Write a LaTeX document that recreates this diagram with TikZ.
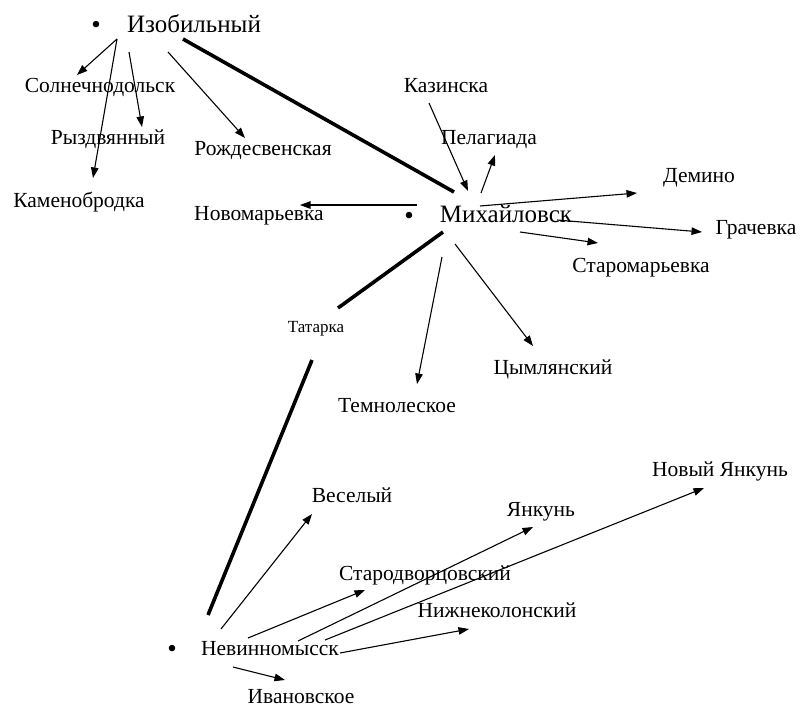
\documentclass[tikz,border=0pt]{standalone}
\usepackage{fontspec}
\setmainfont{Liberation Serif}
\usetikzlibrary{arrows.meta,calc}
\begin{document}
\begin{tikzpicture}[x=1pt,y=-1pt,
  lbl/.style={inner sep=0pt,font=\fontsize{21.5}{24}\selectfont,text height=18.3pt,text depth=4.3pt},
  biglbl/.style={inner sep=0pt,font=\fontsize{25}{28}\selectfont,text height=19pt,text depth=5pt},
  smalllbl/.style={inner sep=0pt,font=\fontsize{17}{20}\selectfont,text height=14.4pt,text depth=3.4pt},
  dotlbl/.style={inner sep=0pt,font=\fontsize{27}{29}\selectfont},
  arr/.style={line width=1.1pt,-{Triangle[length=10.5pt,width=7.5pt]}},
  thickline/.style={line width=3.6pt}]
\useasboundingbox (0,0) rectangle (801,707);
% nodes
\node[dotlbl] (dot1) at (96,27) {•};
\node[biglbl] (izob) at (194,25) {Изобильный};
\node[lbl] (solnech) at (100,85) {Солнечнодольск};
\node[lbl] (ryzd) at (108,137) {Рыздвянный};
\node[lbl] (rozhd) at (263,148) {Рождесвенская};
\node[lbl] (kamen) at (79,200) {Каменобродка};
\node[lbl] (novomar) at (259,213) {Новомарьевка};
\node[lbl] (kazin) at (446,85) {Казинска};
\node[lbl] (pelag) at (489,137) {Пелагиада};
\node[lbl] (demino) at (699,175) {Демино};
\node[dotlbl] (dot2) at (409,218) {•};
\node[biglbl] (mikh) at (506,215) {Михайловск};
\node[lbl] (grach) at (756,227) {Грачевка};
\node[lbl] (staromar) at (641,265) {Старомарьевка};
\node[smalllbl] (tatarka) at (316,327) {Татарка};
\node[lbl] (tsyml) at (553,367) {Цымлянский};
\node[lbl] (temnol) at (397,405) {Темнолеское};
\node[lbl] (novyan) at (720,469) {Новый Янкунь};
\node[lbl] (vesel) at (352,495) {Веселый};
\node[lbl] (yankun) at (541,509) {Янкунь};
\node[lbl] (starodv) at (425,573) {Стародворцовский};
\node[lbl] (nizhne) at (497,610) {Нижнеколонский};
\node[dotlbl] (dot3) at (172,651) {•};
\node[lbl] (nevinn) at (270,648) {Невинномысск};
\node[lbl,text height=14pt,text depth=0pt] (ivan) at (301,696) {Ивановское};
% connectors from Изобильный
\draw[arr] ($(izob)+(-77,14)$) -- ($(solnech)+(-23,-10)$);
\draw[arr] ($(izob)+(-77,14)$) -- ($(kamen)+(14,-22)$);
\draw[arr] ($(izob)+(-65,27)$) -- ($(ryzd)+(34,-10)$);
\draw[arr] ($(izob)+(-26,27)$) -- ($(rozhd)+(-18,-10)$);
\draw[thickline] ($(izob)+(-11,14)$) -- ($(mikh)+(-52,-23)$);
% connectors at Михайловск
\draw[arr] ($(mikh)+(-89,-10)$) -- ($(novomar)+(41,-8)$);
\draw[arr] ($(kazin)+(-17,18)$) -- ($(mikh)+(-38,-24)$);
\draw[arr] ($(mikh)+(-25,-22)$) -- ($(pelag)+(6,18)$);
\draw[arr] ($(mikh)+(-26,-9)$) -- ($(demino)+(-62,18)$);
\draw[arr] ($(mikh)+(51,5)$) -- ($(grach)+(-54,5)$);
\draw[arr] ($(mikh)+(14,17)$) -- ($(staromar)+(-43,-22)$);
\draw[thickline] ($(mikh)+(-63,17)$) -- ($(tatarka)+(22,-19)$);
\draw[arr] ($(mikh)+(-64,42)$) -- ($(temnol)+(20,-21)$);
\draw[arr] ($(mikh)+(-51,29)$) -- ($(tsyml)+(-20,-21)$);
% Татарка to Невинномысск
\draw[thickline] ($(tatarka)+(-4,33)$) -- ($(nevinn)+(-62,-33)$);
% connectors from Невинномысск
\draw[arr] ($(nevinn)+(-49,-19)$) -- ($(vesel)+(-40,19)$);
\draw[arr] ($(nevinn)+(-22,-10)$) -- ($(starodv)+(-60,17)$);
\draw[arr] ($(nevinn)+(28,-7)$) -- ($(yankun)+(-8,18)$);
\draw[arr] ($(nevinn)+(55,-8)$) -- ($(novyan)+(-16,19)$);
\draw[arr] ($(nevinn)+(70,5)$) -- ($(nizhne)+(-28,19)$);
\draw[arr] ($(nevinn)+(-37,19)$) -- ($(ivan)+(-16,-16)$);
\end{tikzpicture}
\end{document}
